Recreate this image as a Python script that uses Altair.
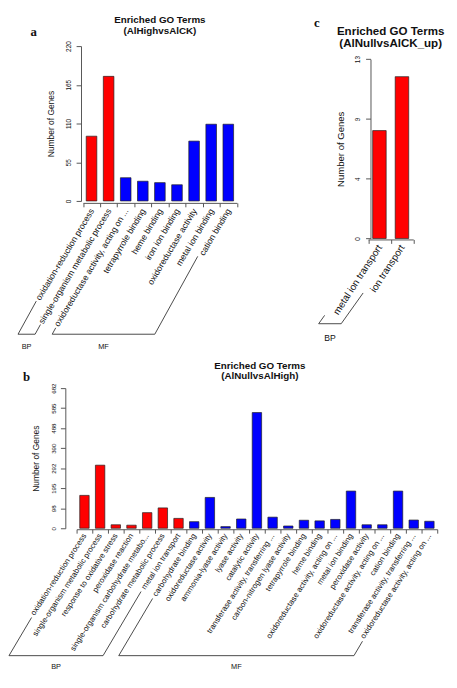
import json
import math
import altair as alt
import pandas as pd

# ---------------- data ----------------
a_terms = ["oxidation-reduction process", "single-organism metabolic process",
           "oxidoreductase activity, acting on ...", "tetrapyrrole binding", "heme binding",
           "iron ion binding", "oxidoreductase activity", "metal ion binding", "cation binding"]
a_counts = [92, 177, 33, 28, 26, 23, 85, 109, 109]
a_groups = ["BP", "BP", "MF", "MF", "MF", "MF", "MF", "MF", "MF"]
a_ymax = 220
a_yticks = ["0", "55", "110", "165", "220"]
a_title = ["Enriched GO Terms", "(AlHighvsAlCK)"]

c_terms = ["metal ion transport", "ion transport"]
c_counts = [8, 12]
c_groups = ["BP", "BP"]
c_ymax = 13.3
c_yticks = ["0", "4", "9", "13"]
c_title = ["Enriched GO Terms", "(AlNullvsAlCK_up)"]

b_terms = ["oxidation-reduction process", "single-organism metabolic process",
           "response to oxidative stress", "peroxidase reaction",
           "single-organism carbohydrate metabo...", "carbohydrate metabolic process",
           "metal ion transport", "carbohydrate binding", "oxidoreductase activity",
           "ammonia-lyase activity", "lyase activity", "catalytic activity",
           "transferase activity, transferring ...", "carbon-nitrogen lyase activity",
           "tetrapyrrole binding", "heme binding", "oxidoreductase activity, acting on ...",
           "metal ion binding", "peroxidase activity", "oxidoreductase activity, acting on ...",
           "cation binding", "transferase activity, transferring ...",
           "oxidoreductase activity, acting on ..."]
b_counts = [160, 307, 17, 15, 76, 99, 48, 32, 150, 8, 45, 563, 54, 11, 39, 36, 43,
            181, 17, 17, 181, 40, 34]
b_groups = ["BP"] * 7 + ["MF"] * 16
b_ymax = 682
b_yticks = ["0", "98", "195", "292", "390", "488", "585", "682"]
b_title = ["Enriched GO Terms", "(AlNullvsAlHigh)"]

group_names = ["BP", "MF"]
group_colors = ["#FF0000", "#0000FF"]

# ---------------- style / layout ----------------
FONT = "Liberation Sans"
SERIF = "Liberation Serif"
INK = "#111111"
AXIS = "#555555"
YTITLE = "Number of Genes"

ARIAL = {'a': 556, 'b': 556, 'c': 500, 'd': 556, 'e': 556, 'f': 278, 'g': 556, 'h': 556,
         'i': 222, 'j': 222, 'k': 500, 'l': 222, 'm': 833, 'n': 556, 'o': 556, 'p': 556,
         'q': 556, 'r': 333, 's': 500, 't': 278, 'u': 556, 'v': 500, 'w': 722, 'x': 500,
         'y': 500, 'z': 500, ' ': 278, '-': 333, ',': 278, '.': 278}


def text_px(s, size):
    return sum(ARIAL.get(ch, 556) for ch in s) * size / 1000.0


LA = dict(plotL=84.5, plotT=38, W=157, H=158, bw=0.62, yoff=2, xoff=2, xpad=2, xfont=8.8,
          angle=-59, yfont=6.5, ypad=5, ytitle=8.6, ytpad=10, D=136, dxc=75, gap=2,
          gfont=7.5, gdy=13, tfont=10, tbase=[-23.5, -12], tdx=0, letter=(-50.2, -14),
          box=(8, 8, 246, 351))
LC = dict(plotL=366.5, plotT=51.3, W=46, H=183, bw=0.6, yoff=-2.4, xoff=1, xpad=2, xfont=10,
          angle=-57, yfont=6.5, ypad=5, ytitle=9.75, ytpad=10, D=87, dxc=62, gap=2,
          gfont=8.8, gdy=14.5, tfont=11.8, tbase=[-25, -12.5], tdx=0,
          letter=(-52.25, -36.3), box=(246, 8, 448, 351))
LB = dict(plotL=78, plotT=387, W=368, H=143, bw=0.6, yoff=11.5, xoff=1, xpad=1, xfont=8,
          angle=-57, yfont=6.3, ypad=4, ytitle=8.6, ytpad=10, D=130, dxc=77, gap=3,
          gfont=7.5, gdy=12, tfont=10, tbase=[-20, -8.8], tdx=3, letter=(-51, -10.8),
          box=(8, 351, 448, 680))


def panel(terms, counts, groups, ymax, yticks, title_lines, letter, L):
    n = len(terms)
    W, H = L["W"], L["H"]
    bx1, by1, bx2, by2 = L["box"]
    VW, VH = bx2 - bx1, by2 - by1
    pl, pt = L["plotL"] - bx1, L["plotT"] - by1
    lo = 0.5
    step = W / n

    def X(px):
        return lo + px / step

    def Y(py):
        return ymax * (1 - py / H)

    xs = alt.Scale(domain=[lo, n + 0.5], range=[pl, pl + W], nice=False, zero=False)
    ys = alt.Scale(domain=[0, ymax], range=[pt + H, pt], nice=False, zero=False)

    bars = pd.DataFrame({"idx": list(range(1, n + 1)), "term": terms,
                         "count": counts, "group": groups})
    bars["x0"] = bars["idx"] - L["bw"] / 2
    bars["x1"] = bars["idx"] + L["bw"] / 2
    bars["base"] = 0

    m = len(yticks)
    x_axis = alt.Axis(
        values=[k + 0.5 for k in range(n + 1)],
        labelExpr=json.dumps(terms) + "[round(datum.value - 0.5)] || ''",
        labelAngle=L["angle"], labelAlign="right", labelBaseline="middle",
        labelOffset=step / 2, labelPadding=L["xpad"], labelFontSize=L["xfont"],
        labelFont=FONT, labelColor=INK, labelOverlap=False, labelFlush=False,
        labelBound=False, labelLimit=400, tickSize=4, tickColor=AXIS, tickWidth=1,
        domainColor=AXIS, domainWidth=1, offset=L["xoff"] - (VH - (pt + H)),
        grid=False)
    y_axis = alt.Axis(
        values=[ymax * k / (m - 1) for k in range(m)],
        labelExpr=json.dumps(yticks) + "[round(datum.value * %d / %s)]" % (m - 1, ymax),
        labelAngle=-90, labelAlign="center", labelBaseline="bottom",
        labelPadding=L["ypad"], labelFontSize=L["yfont"], labelFont=FONT, labelColor=INK,
        labelOverlap=False, labelFlush=False, tickSize=5, tickColor=AXIS, tickWidth=1,
        domainColor=AXIS, domainWidth=1, offset=L["yoff"] - pl, grid=False,
        titleFont=FONT, titleFontSize=L["ytitle"],
        titleFontWeight="normal", titleColor=INK, titlePadding=L["ytpad"])

    def ex(f):
        return alt.X(f, type="quantitative", scale=xs, axis=x_axis, title="")

    def ey(f):
        return alt.Y(f, type="quantitative", scale=ys, axis=y_axis, title=YTITLE)

    # group brackets drawn under the rotated category labels
    off0 = L["xoff"] + 4 + L["xpad"]
    sin_t = math.sin(math.radians(abs(L["angle"])))
    slope = L["dxc"] / L["D"]
    D = L["D"]
    segs = []
    gtext = []
    for g in group_names:
        ids = [i for i in range(n) if groups[i] == g]
        if not ids:
            continue
        i1, i2 = ids[0], ids[-1]
        c1 = (i1 + 1 - lo) * step
        c2 = (i2 + 1 - lo) * step

        def pt_(c, depth):
            return (X(c - slope * depth), Y(H + depth))

        s1 = off0 + text_px(terms[i1], L["xfont"]) * sin_t + L["gap"]
        s2 = off0 + text_px(terms[i2], L["xfont"]) * sin_t + L["gap"]
        p1, k1, k2, p2 = pt_(c1, s1), pt_(c1, D), pt_(c2, D), pt_(c2, s2)
        for a, b in [(p1, k1), (k1, k2), (k2, p2)]:
            segs.append({"sx": a[0], "sy": a[1], "ex": b[0], "ey": b[1]})
        gtext.append({"tx": X((c1 + c2) / 2 - slope * D), "ty": Y(H + D + L["gdy"]), "txt": g})
    segs = pd.DataFrame(segs)
    gtext = pd.DataFrame(gtext)

    titles = pd.DataFrame({"tx": [X(W / 2 + L["tdx"])] * len(title_lines),
                           "ty": [Y(b) for b in L["tbase"]], "txt": title_lines})
    lett = pd.DataFrame({"tx": [X(L["letter"][0])], "ty": [Y(L["letter"][1])], "txt": [letter]})

    bar_layer = alt.Chart(bars).mark_bar(stroke="#222222", strokeWidth=0.7).encode(
        x=ex("x0"), x2="x1:Q", y=ey("count"), y2="base:Q",
        color=alt.Color("group:N", scale=alt.Scale(domain=group_names, range=group_colors),
                        legend=None))
    seg_layer = alt.Chart(segs).mark_rule(color="#333333", strokeWidth=0.9).encode(
        x=ex("sx"), x2="ex:Q", y=ey("sy"), y2="ey:Q")
    gtext_layer = alt.Chart(gtext).mark_text(
        font=FONT, fontSize=L["gfont"], color=INK, align="center", baseline="middle").encode(
        x=ex("tx"), y=ey("ty"), text="txt:N")
    title_layer = alt.Chart(titles).mark_text(
        font=FONT, fontSize=L["tfont"], fontWeight="bold", color=INK, align="center",
        baseline="alphabetic").encode(x=ex("tx"), y=ey("ty"), text="txt:N")
    letter_layer = alt.Chart(lett).mark_text(
        font=SERIF, fontSize=13, fontWeight="bold", color=INK, align="center",
        baseline="middle").encode(x=ex("tx"), y=ey("ty"), text="txt:N")

    return alt.layer(bar_layer, seg_layer, gtext_layer, title_layer,
                     letter_layer).properties(width=VW, height=VH)


pa = panel(a_terms, a_counts, a_groups, a_ymax, a_yticks, a_title, "a", LA)
pc = panel(c_terms, c_counts, c_groups, c_ymax, c_yticks, c_title, "c", LC)
pb = panel(b_terms, b_counts, b_groups, b_ymax, b_yticks, b_title, "b", LB)

top = alt.hconcat(pa, pc, spacing=0)
chart = alt.vconcat(top, pb, spacing=0).properties(padding=0)
chart = chart.configure(font=FONT, background="white").configure_axis(
    labelOverlap=False).configure_view(stroke="transparent", strokeWidth=0)

chart.save("out.html", embed_options={"renderer": "svg", "actions": False})
